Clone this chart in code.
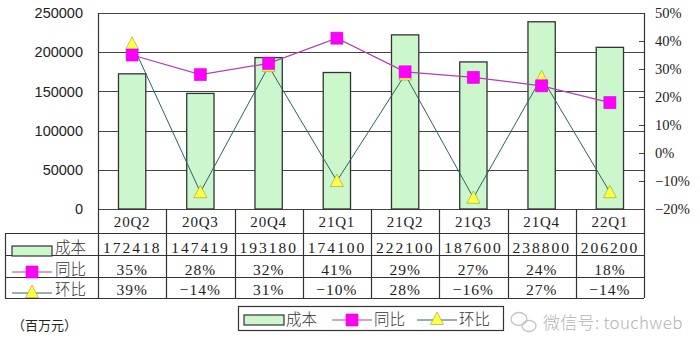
<!DOCTYPE html>
<html>
<head>
<meta charset="utf-8">
<script src="https://cdn.jsdelivr.net/npm/d3@7"></script>
<style>
  body { margin: 0; background: #fff; }
  svg { display: block; }
</style>
</head>
<body>
<div id="chart"></div>
<script>
// data
const categories = ['20Q2', '20Q3', '20Q4', '21Q1', '21Q2', '21Q3', '21Q4', '22Q1']
const cost = [172418, 147419, 193180, 174100, 222100, 187600, 238800, 206200]
const yoy = [35, 28, 32, 41, 29, 27, 24, 18]
const qoq = [39, -14, 31, -10, 28, -16, 27, -14]
const leftTicks = [0, 50000, 100000, 150000, 200000, 250000]
const rightTicks = [-20, -10, 0, 10, 20, 30, 40, 50]
const rowNames = ['成本', '同比', '环比']

const W = 700
const H = 353
const plot = { left: 98, right: 644, top: 13, bottom: 209 }
const tableLeft = 5
const rowLines = [233, 255, 277, 298]

const svg = d3
  .select('#chart')
  .append('svg')
  .attr('width', W)
  .attr('height', H)

const xBar = d3
  .scaleBand()
  .domain(categories)
  .range([plot.left, plot.right])
  .paddingInner(0.6)
  .paddingOuter(0.3)

const xCol = d3
  .scaleBand()
  .domain(categories)
  .range([plot.left, plot.right])

const yLeft = d3
  .scaleLinear()
  .domain([0, 250000])
  .range([plot.bottom, plot.top])

const yRight = d3
  .scaleLinear()
  .domain([-20, 50])
  .range([plot.bottom, plot.top])

const gridColor = '#444'
const fillGreen = '#ccf7cc'

// gridlines
svg
  .append('g')
  .selectAll('line')
  .data(leftTicks)
  .enter()
  .append('line')
  .attr('x1', plot.left)
  .attr('x2', plot.right)
  .attr('y1', d => Math.round(yLeft(d)) + 0.5)
  .attr('y2', d => Math.round(yLeft(d)) + 0.5)
  .attr('stroke', gridColor)
  .attr('stroke-width', 1.2)

// bars
svg
  .append('g')
  .selectAll('rect')
  .data(cost)
  .enter()
  .append('rect')
  .attr('x', (d, i) => xBar(categories[i]))
  .attr('y', d => yLeft(d))
  .attr('width', xBar.bandwidth())
  .attr('height', d => yLeft(0) - yLeft(d))
  .attr('fill', fillGreen)
  .attr('stroke', '#333')
  .attr('stroke-width', 1.3)

// left axis
const leftAxis = d3
  .axisLeft(yLeft)
  .tickValues(leftTicks)
  .tickSize(0)
  .tickPadding(15)
  .tickFormat(d3.format('d'))

const gl = svg
  .append('g')
  .attr('transform', `translate(${plot.left},0)`)
  .call(leftAxis)
gl.select('.domain').remove()
gl.selectAll('text')
  .style('font-family', '"Liberation Sans", Arial, sans-serif')
  .style('font-size', '14.5px')
  .attr('fill', '#222')

// right axis
const rightAxis = d3
  .axisRight(yRight)
  .tickValues(rightTicks)
  .tickSizeInner(-5)
  .tickSizeOuter(0)
  .tickPadding(11)
  .tickFormat(d => (d < 0 ? '−' + Math.abs(d) : d) + '%')

const gr = svg
  .append('g')
  .attr('transform', `translate(${plot.right},0)`)
  .call(rightAxis)
gr.select('.domain').remove()
gr.selectAll('line').attr('stroke', gridColor)
gr.selectAll('text')
  .style('font-family', '"Liberation Serif", serif')
  .style('font-size', '14.5px')
  .attr('fill', '#222')

// frame lines (plot sides + table)
const frame = svg.append('g').attr('stroke', '#333').attr('stroke-width', 1.2)
frame.append('line')
  .attr('x1', plot.left + 0.5).attr('x2', plot.left + 0.5)
  .attr('y1', plot.top).attr('y2', rowLines[3])
frame.append('line')
  .attr('x1', plot.right + 0.5).attr('x2', plot.right + 0.5)
  .attr('y1', plot.top).attr('y2', rowLines[3])
frame.append('line')
  .attr('x1', tableLeft + 0.5).attr('x2', tableLeft + 0.5)
  .attr('y1', rowLines[0]).attr('y2', rowLines[3])
frame.selectAll('.row-line')
  .data(rowLines)
  .enter()
  .append('line')
  .attr('class', 'row-line')
  .attr('x1', tableLeft)
  .attr('x2', plot.right)
  .attr('y1', d => d + 0.5)
  .attr('y2', d => d + 0.5)
frame.selectAll('.col-line')
  .data(categories.slice(1))
  .enter()
  .append('line')
  .attr('class', 'col-line')
  .attr('x1', d => Math.round(xCol(d)) + 0.5)
  .attr('x2', d => Math.round(xCol(d)) + 0.5)
  .attr('y1', plot.bottom)
  .attr('y2', rowLines[3])

// lines
const colMid = i => xCol(categories[i]) + xCol.bandwidth() / 2

const line = d3
  .line()
  .x((d, i) => colMid(i))
  .y(d => yRight(d))

svg
  .append('path')
  .datum(qoq)
  .attr('d', line)
  .attr('fill', 'none')
  .attr('stroke', '#2e6262')
  .attr('stroke-width', 1)

svg
  .append('path')
  .datum(yoy)
  .attr('d', line)
  .attr('fill', 'none')
  .attr('stroke', '#b040b0')
  .attr('stroke-width', 1.2)

const squarePath = 'M-6,-6H6V6H-6Z'
const triPath = 'M0,-7L6.5,5.5H-6.5Z'

svg
  .append('g')
  .selectAll('path')
  .data(qoq)
  .enter()
  .append('path')
  .attr('d', triPath)
  .attr('transform', (d, i) => `translate(${colMid(i)},${yRight(d)})`)
  .attr('fill', '#ffff44')
  .attr('stroke', '#9a9a30')
  .attr('stroke-width', 0.6)

svg
  .append('g')
  .selectAll('path')
  .data(yoy)
  .enter()
  .append('path')
  .attr('d', squarePath)
  .attr('transform', (d, i) => `translate(${colMid(i)},${yRight(d)})`)
  .attr('fill', '#ff00ff')
  .attr('stroke', '#cc00cc')
  .attr('stroke-width', 0.6)

// table text
const serif = '"Liberation Serif", serif'
const cjk = '"Noto Sans CJK SC", sans-serif'

svg
  .append('g')
  .selectAll('text')
  .data(categories)
  .enter()
  .append('text')
  .attr('x', d => xCol(d) + xCol.bandwidth() / 2)
  .attr('y', 227)
  .attr('text-anchor', 'middle')
  .style('font-family', serif)
  .style('font-size', '15px')
  .style('letter-spacing', '0.8px')
  .attr('fill', '#222')
  .text(d => d)

const rowBase = [253, 275, 295]
const fmtPct = v => (v < 0 ? '−' + Math.abs(v) : v) + '%'
const rows = [cost.map(String), yoy.map(fmtPct), qoq.map(fmtPct)]

rows.forEach((vals, r) => {
  svg
    .append('g')
    .selectAll('text')
    .data(vals)
    .enter()
    .append('text')
    .attr('x', (d, i) => colMid(i))
    .attr('y', rowBase[r])
    .attr('text-anchor', 'middle')
    .style('font-family', serif)
    .style('font-size', '15.5px')
    .style('letter-spacing', r === 0 ? '2px' : '1px')
    .attr('fill', '#222')
    .text(d => d)

  svg
    .append('text')
    .attr('x', 55)
    .attr('y', rowBase[r])
    .style('font-family', cjk)
    .style('font-size', '15.5px')
    .style('font-weight', 300)
    .attr('fill', '#333')
    .text(rowNames[r])
})

// legend keys in the table rows
function drawKeys(g, x, y, kind) {
  if (kind === 0) {
    g.append('rect')
      .attr('x', x).attr('y', y - 5)
      .attr('width', 40).attr('height', 10)
      .attr('fill', fillGreen).attr('stroke', '#333').attr('stroke-width', 1.2)
  } else if (kind === 1) {
    g.append('line')
      .attr('x1', x).attr('x2', x + 40).attr('y1', y).attr('y2', y)
      .attr('stroke', '#b040b0').attr('stroke-width', 1.2)
    g.append('path').attr('d', squarePath)
      .attr('transform', `translate(${x + 20},${y})`)
      .attr('fill', '#ff00ff').attr('stroke', '#cc00cc').attr('stroke-width', 0.6)
  } else {
    g.append('line')
      .attr('x1', x).attr('x2', x + 40).attr('y1', y).attr('y2', y)
      .attr('stroke', '#2e6262').attr('stroke-width', 1)
    g.append('path').attr('d', triPath)
      .attr('transform', `translate(${x + 20},${y - 1})`)
      .attr('fill', '#ffff44').attr('stroke', '#9a9a30').attr('stroke-width', 0.6)
  }
}

const keys = svg.append('g')
drawKeys(keys, 12, 251, 0)
drawKeys(keys, 12, 272, 1)
drawKeys(keys, 12, 293, 2)

// legend box
const legend = svg.append('g')
legend.append('rect')
  .attr('x', 238.5).attr('y', 306.5)
  .attr('width', 265).attr('height', 24)
  .attr('fill', '#fff').attr('stroke', '#333').attr('stroke-width', 1.2)

const legendX = [244, 332, 417]
const legendTextX = [286, 374, 459]
rowNames.forEach((name, i) => {
  drawKeys(legend, legendX[i], 320, i)
  legend.append('text')
    .attr('x', legendTextX[i])
    .attr('y', 325)
    .style('font-family', cjk)
    .style('font-size', '15.5px')
    .style('font-weight', 300)
    .attr('fill', '#333')
    .text(name)
})

// unit label
svg.append('text')
  .attr('x', 12)
  .attr('y', 330)
  .style('font-family', cjk)
  .style('font-size', '13px')
  .attr('fill', '#222')
  .text('（百万元）')

// watermark
const wm = svg.append('g').attr('stroke', '#c4c4c4').attr('fill', 'none').attr('stroke-width', 1.3)
wm.append('ellipse').attr('cx', 519).attr('cy', 319).attr('rx', 8).attr('ry', 6.5)
wm.append('ellipse').attr('cx', 529).attr('cy', 326).attr('rx', 7).attr('ry', 5.5)
svg.append('text')
  .attr('x', 543)
  .attr('y', 329)
  .style('font-family', cjk)
  .style('font-size', '17px')
  .style('font-weight', 300)
  .style('letter-spacing', '0.3px')
  .attr('fill', '#b4b4b4')
  .text('微信号: touchweb')
</script>
</body>
</html>
